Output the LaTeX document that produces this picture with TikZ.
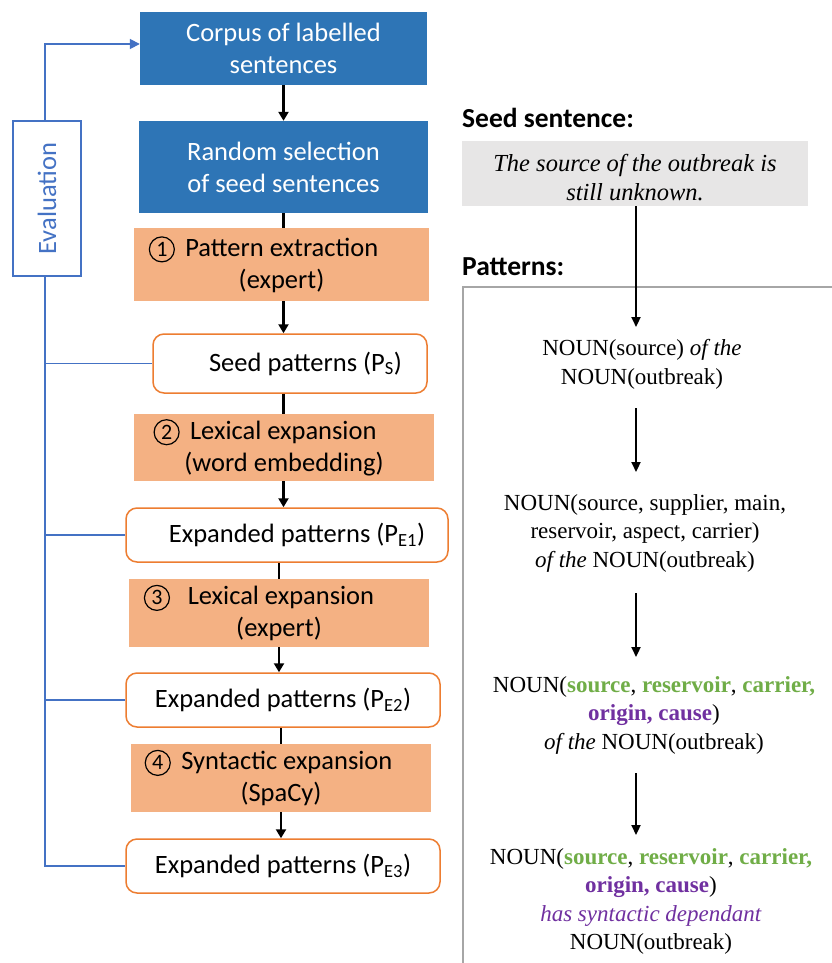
\documentclass[tikz,border=0pt]{standalone}
\usepackage{fontspec}
\usepackage{graphicx}
\setmainfont{Liberation Serif}
\newfontfamily\calfont{Carlito}
\usetikzlibrary{arrows.meta}
\definecolor{boxblue}{HTML}{2E75B6}
\definecolor{boxorange}{HTML}{F4B183}
\definecolor{edgeorange}{HTML}{ED7D31}
\definecolor{evalblue}{HTML}{4472C4}
\definecolor{seedgray}{HTML}{E7E6E6}
\definecolor{framegray}{HTML}{A6A6A6}
\definecolor{grn}{HTML}{70AD47}
\definecolor{prp}{HTML}{7030A0}
\tikzset{
  lbl/.style={font=\calfont\fontsize{26.5}{32}\selectfont, align=center, inner sep=0pt},
  bluebox/.style={lbl, fill=boxblue, text=white},
  orangebox/.style={lbl, fill=boxorange, text=black},
  patbox/.style={lbl, draw=edgeorange, line width=1.5pt, fill=white, rounded corners=11pt},
  flow/.style={line width=2.5pt, draw=black},
  flowarrow/.style={flow, -{Triangle[length=9pt,width=10pt]}},
  evalline/.style={line width=1.7pt, draw=evalblue},
  rtext/.style={font=\fontsize{23}{28.5}\selectfont, align=center, inner sep=0pt},
  rarrow/.style={line width=2.2pt, -{Triangle[length=10pt,width=9pt]}},
  head/.style={font=\calfont\bfseries\fontsize{27.5}{32}\selectfont, inner sep=0pt, anchor=base west},
  digit/.style={draw, circle, line width=1.2pt, inner sep=0pt, minimum size=25pt, font=\calfont\fontsize{22}{22}\selectfont},
}
\newcommand{\gw}[1]{\textcolor{grn}{\textbf{#1}}}
\newcommand{\pw}[1]{\textcolor{prp}{\textbf{#1}}}
\newcommand{\cd}[1]{\tikz[baseline=(dg.base)]\node[digit] (dg) {#1};}
\begin{document}
\begin{tikzpicture}[x=1pt,y=-1pt]
\useasboundingbox (0,0) rectangle (831,963);
\fill[white] (0,0) rectangle (831,963);

% left column
\node[bluebox, minimum width=287pt, minimum height=73pt] (corpus) at (283.5,48.5) {Corpus of labelled\\sentences};
\node[bluebox, minimum width=289pt, minimum height=92pt] (random) at (283.5,167) {Random selection\\of seed sentences};
\node[orangebox, minimum width=295pt, minimum height=73pt] (o1) at (281.5,264.5) {\cd{1}\, Pattern extraction\hspace*{36pt}\\(expert)};
\node[patbox, minimum width=274pt, minimum height=59pt] (seedp) at (290,363.5) {\hspace*{31pt}Seed patterns (P\textsubscript{S})};
\node[orangebox, minimum width=300pt, minimum height=67pt] (o2) at (284,447.5) {\cd{2}\, Lexical expansion\hspace*{38pt}\\(word embedding)};
\node[patbox, minimum width=322pt, minimum height=54pt] (pe1) at (287,535) {\hspace*{20pt}Expanded patterns (P\textsubscript{E1})};
\node[orangebox, minimum width=300pt, minimum height=68pt] (o3) at (279,613) {\cd{3}\;\, Lexical expansion\hspace*{40pt}\\(expert)};
\node[patbox, minimum width=314pt, minimum height=54pt] (pe2) at (283,700) {Expanded patterns (P\textsubscript{E2})};
\node[orangebox, minimum width=300pt, minimum height=68pt] (o4) at (281,778) {\cd{4}\, Syntactic expansion\hspace*{25pt}\\(SpaCy)};
\node[patbox, minimum width=314pt, minimum height=54pt] (pe3) at (283,866) {Expanded patterns (P\textsubscript{E3})};

\node[lbl, draw=evalblue, line width=1.7pt, text=evalblue, minimum width=68pt, minimum height=155pt] (eval) at (47,198.5) {\rotatebox{90}{Evaluation}};

% flow connectors
\draw[flowarrow] (corpus.south) -- (random.north);
\draw[flow] (random.south) -- (random.south |- o1.north);
\draw[flowarrow] (random.south |- o1.south) -- (random.south |- seedp.north);
\draw[flow] (random.south |- seedp.south) -- (random.south |- o2.north);
\draw[flowarrow] (random.south |- o2.south) -- (random.south |- pe1.north);
\draw[flow] (o3.north |- pe1.south) -- (o3.north);
\draw[flowarrow] (o3.south) -- (o3.south |- pe2.north);
\draw[flow] (o4.north |- pe2.south) -- (o4.north);
\draw[flowarrow] (o4.south) -- (o4.south |- pe3.north);

% evaluation feedback
\draw[evalline, -{Triangle[length=10pt,width=10pt]}] ([xshift=-2pt]eval.north) |- ([yshift=4.5pt]corpus.west);
\draw[evalline] ([xshift=-2pt]eval.south) -- ([xshift=-2pt]eval.south |- pe3.west) -- (pe3.west);
\draw[evalline] ([xshift=-2pt]eval.south |- seedp.west) -- (seedp.west);
\draw[evalline] ([xshift=-2pt]eval.south |- pe1.west) -- (pe1.west);
\draw[evalline] ([xshift=-2pt]eval.south |- pe2.west) -- (pe2.west);

% right column
\node[head] (hseed) at (462,128) {Seed sentence:};
\node[fill=seedgray, minimum width=346pt, minimum height=65pt, inner sep=0pt] (seed) at (635,173.5) {};
\node[inner sep=0pt, font=\itshape\fontsize{24.5}{29}\selectfont, align=center] (seedtxt) at (635,178) {The source of the outbreak is\\still unknown.};
\node[head] (hpat) at (462,275) {Patterns:};
\draw[framegray, line width=2.5pt] (463,965) |- (833,287);

\node[rtext] (p1) at (642,364.5) {NOUN(source) \textit{of the}\\NOUN(outbreak)};
\node[rtext] (p2) at (645,533) {NOUN(source, supplier, main,\\reservoir, aspect, carrier)\\\textit{of the} NOUN(outbreak)};
\node[rtext] (p3) at (654,715) {NOUN(\gw{source}, \gw{reservoir}, \gw{carrier,}\\\pw{origin, cause})\\\textit{of the} NOUN(outbreak)};
\node[rtext] (p4) at (651,901.5) {NOUN(\gw{source}, \gw{reservoir}, \gw{carrier,}\\\pw{origin, cause})\\\textcolor{prp}{\textit{has syntactic dependant}}\\NOUN(outbreak)};

\coordinate (a1s) at (636,206);
\coordinate (a1e) at (636,327);
\coordinate (a2s) at (636,408);
\coordinate (a2e) at (636,472);
\coordinate (a3s) at (636,593);
\coordinate (a3e) at (636,657);
\coordinate (a4s) at (636,773);
\coordinate (a4e) at (636,835);
\draw[rarrow] (seed.south -| a1s) -- (a1e);
\draw[rarrow] (a2s) -- (a2e);
\draw[rarrow] (a3s) -- (a3e);
\draw[rarrow] (a4s) -- (a4e);
\end{tikzpicture}
\end{document}
